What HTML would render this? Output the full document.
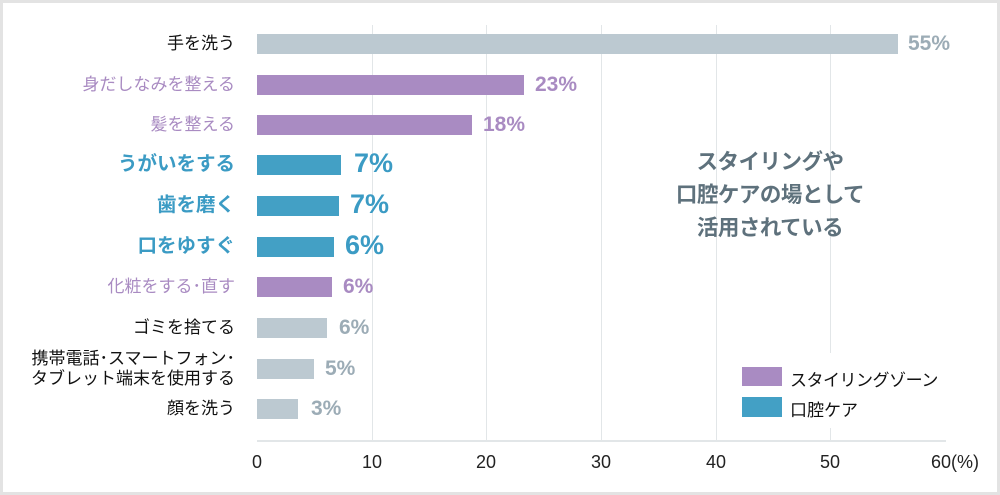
<!DOCTYPE html>
<html><head><meta charset="utf-8"><style>
body{margin:0;width:1000px;height:495px;overflow:hidden;background:#fff;font-family:"Liberation Sans","Noto Sans CJK JP",sans-serif;}
#f{position:absolute;left:0;top:0;width:994px;height:489px;border:3px solid #e3e3e3;}
.g{position:absolute;top:25px;height:416px;width:1px;background:#e2e6e8;}
.b{position:absolute;left:257px;height:20px;}
.l{position:absolute;right:765px;font-size:17px;white-space:nowrap;text-align:right;line-height:20px;}
.v{position:absolute;font-weight:bold;white-space:nowrap;}
.t{position:absolute;top:452px;font-size:18px;color:#222;transform:translateX(-50%);}
.gr{background:#bcc9d1}.pu{background:#a98bc2}.bl{background:#43a0c5}
</style></head><body>
<div id="f"></div>
<div class="g" style="left:372px"></div><div class="g" style="left:486px"></div><div class="g" style="left:601px"></div><div class="g" style="left:716px"></div><div class="g" style="left:830px"></div>
<div style="position:absolute;left:257px;top:440px;width:689px;height:2px;background:#e2e6e8"></div>
<div style="position:absolute;left:735px;top:353px;width:210px;height:75px;background:#fff"></div>

<div class="b gr" style="top:34px;width:641px"></div>
<div class="b pu" style="top:75px;width:267px"></div>
<div class="b pu" style="top:115px;width:215px"></div>
<div class="b bl" style="top:155px;width:84px"></div>
<div class="b bl" style="top:196px;width:82px"></div>
<div class="b bl" style="top:237px;width:77px"></div>
<div class="b pu" style="top:277px;width:75px"></div>
<div class="b gr" style="top:318px;width:70px"></div>
<div class="b gr" style="top:359px;width:57px"></div>
<div class="b gr" style="top:399px;width:41px"></div>

<div class="l" style="top:34px;color:#111">手を洗う</div>
<div class="l" style="top:75px;color:#a98bc2">身だしなみを整える</div>
<div class="l" style="top:115px;color:#a98bc2">髪を整える</div>
<div class="l" style="top:153px;color:#3b9bc4;font-weight:bold;font-size:19.5px;line-height:22px">うがいをする</div>
<div class="l" style="top:194px;color:#3b9bc4;font-weight:bold;font-size:19.5px;line-height:22px">歯を磨く</div>
<div class="l" style="top:235px;color:#3b9bc4;font-weight:bold;font-size:19.5px;line-height:22px">口をゆすぐ</div>
<div class="l" style="top:277px;color:#a98bc2">化粧をする･直す</div>
<div class="l" style="top:318px;color:#111">ゴミを捨てる</div>
<div class="l" style="top:349px;color:#111;font-size:17px;line-height:20px">携帯電話･スマートフォン･<br>タブレット端末を使用する</div>
<div class="l" style="top:399px;color:#111">顔を洗う</div>

<div class="v" style="left:908px;top:32px;font-size:21px;color:#9cacb6">55%</div>
<div class="v" style="left:535px;top:73px;font-size:21px;color:#a98bc2">23%</div>
<div class="v" style="left:483px;top:113px;font-size:21px;color:#a98bc2">18%</div>
<div class="v" style="left:354px;top:148px;font-size:27px;color:#3b9bc4">7%</div>
<div class="v" style="left:350px;top:189px;font-size:27px;color:#3b9bc4">7%</div>
<div class="v" style="left:345px;top:230px;font-size:27px;color:#3b9bc4">6%</div>
<div class="v" style="left:343px;top:275px;font-size:21px;color:#a98bc2">6%</div>
<div class="v" style="left:339px;top:316px;font-size:21px;color:#9cacb6">6%</div>
<div class="v" style="left:325px;top:357px;font-size:21px;color:#9cacb6">5%</div>
<div class="v" style="left:311px;top:397px;font-size:21px;color:#9cacb6">3%</div>

<div style="position:absolute;left:640px;top:146px;width:260px;text-align:center;font-size:21.5px;font-weight:bold;color:#5e717c;line-height:33px;letter-spacing:-0.5px">スタイリングや<br>口腔ケアの場として<br>活用されている</div>

<div style="position:absolute;left:742px;top:367px;width:40px;height:19px" class="pu"></div>
<div style="position:absolute;left:742px;top:397px;width:40px;height:20px" class="bl"></div>
<div style="position:absolute;left:790px;top:366px;font-size:17px;color:#111;letter-spacing:-0.5px">スタイリングゾーン</div>
<div style="position:absolute;left:790px;top:396px;font-size:17px;color:#111">口腔ケア</div>

<div class="t" style="left:257px">0</div>
<div class="t" style="left:372px">10</div>
<div class="t" style="left:486px">20</div>
<div class="t" style="left:601px">30</div>
<div class="t" style="left:716px">40</div>
<div class="t" style="left:830px">50</div>
<div class="t" style="left:944px;transform:none;margin-left:-13px">60(%)</div>
</body></html>
